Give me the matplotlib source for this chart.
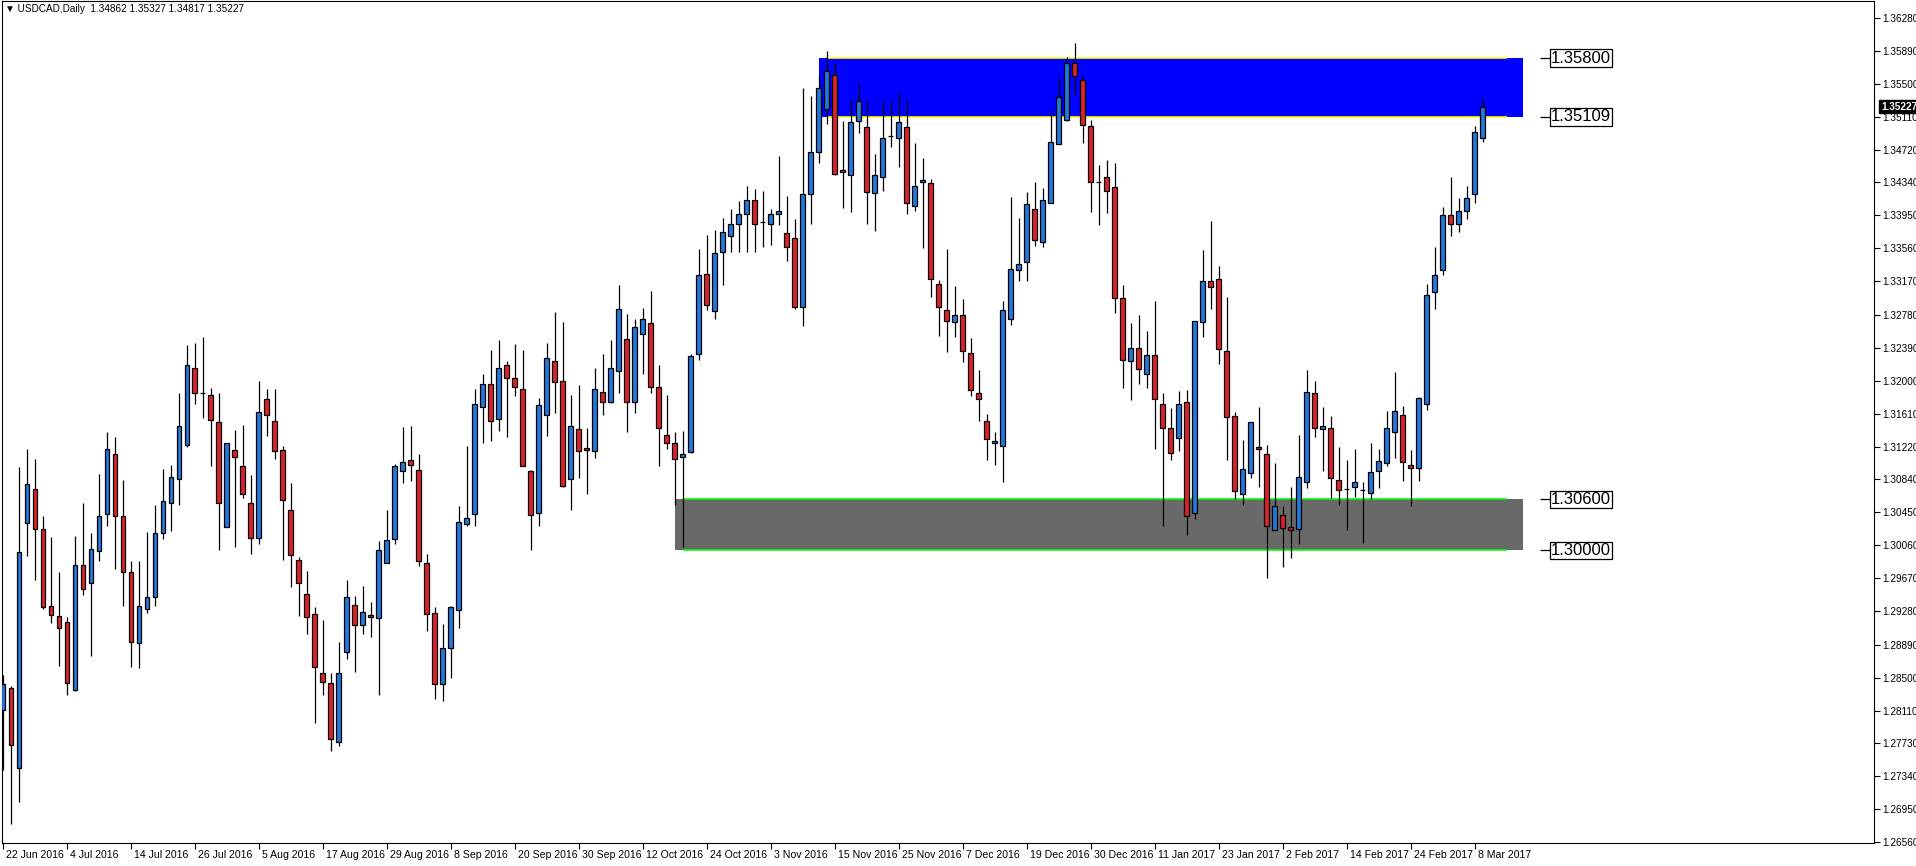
import matplotlib
matplotlib.use("Agg")
import matplotlib.pyplot as plt
from matplotlib.patches import Rectangle
from matplotlib import transforms

plt.rcParams['font.family'] = ['Liberation Sans', 'DejaVu Sans']

# daily USDCAD candles, 22 Jun 2016 .. 9 Mar 2017
opens = [1.2812, 1.2838, 1.2744, 1.3032, 1.3072, 1.3025, 1.2934, 1.2923, 1.2915, 1.2836,
         1.2983, 1.2961, 1.2999, 1.3043, 1.3114, 1.3040, 1.2975, 1.2891, 1.2931, 1.2945,
         1.3021, 1.3056, 1.3084, 1.3124, 1.3215, 1.3186, 1.3183, 1.3151, 1.3028, 1.3118,
         1.3100, 1.3056, 1.3015, 1.3178, 1.3153, 1.3118, 1.3047, 1.2989, 1.2949, 1.2925,
         1.2856, 1.2844, 1.2774, 1.2880, 1.2936, 1.2912, 1.2924, 1.2920, 1.2985, 1.3013,
         1.3094, 1.3106, 1.3095, 1.2985, 1.2926, 1.2842, 1.2885, 1.2930, 1.3031, 1.3043,
         1.3169, 1.3196, 1.3155, 1.3218, 1.3203, 1.3190, 1.3093, 1.3044, 1.3159, 1.3223,
         1.3200, 1.3084, 1.3143, 1.3121, 1.3117, 1.3187, 1.3175, 1.3211, 1.3249, 1.3175,
         1.3255, 1.3268, 1.3193, 1.3136, 1.3126, 1.3110, 1.3116, 1.3232, 1.3326, 1.3282,
         1.3352, 1.3370, 1.3385, 1.3396, 1.3413, 1.3387, 1.3385, 1.3396, 1.3374, 1.3368,
         1.3287, 1.3420, 1.3469, 1.3520, 1.3560, 1.3448, 1.3442, 1.3506, 1.3499, 1.3421,
         1.3440, 1.3488, 1.3486, 1.3499, 1.3406, 1.3434, 1.3433, 1.3314, 1.3283, 1.3269,
         1.3277, 1.3233, 1.3186, 1.3152, 1.3126, 1.3123, 1.3273, 1.3331, 1.3340, 1.3402,
         1.3363, 1.3409, 1.3479, 1.3507, 1.3574, 1.3554, 1.3500, 1.3434, 1.3440, 1.3428,
         1.3297, 1.3223, 1.3238, 1.3208, 1.3230, 1.3173, 1.3144, 1.3133, 1.3175, 1.3044,
         1.3269, 1.3317, 1.3320, 1.3235, 1.3158, 1.3066, 1.3091, 1.3122, 1.3114, 1.3024,
         1.3042, 1.3027, 1.3025, 1.3080, 1.3186, 1.3143, 1.3144, 1.3083, 1.3072, 1.3075,
         1.3071, 1.3068, 1.3094, 1.3103, 1.3139, 1.3159, 1.3101, 1.3097, 1.3173, 1.3304,
         1.3330, 1.3395, 1.3385, 1.3400, 1.3420, 1.34862]
highs = [1.2853, 1.2840, 1.3098, 1.3119, 1.3108, 1.3041, 1.3016, 1.2974, 1.2922, 1.3017,
         1.3056, 1.3020, 1.3090, 1.3140, 1.3134, 1.3083, 1.2987, 1.2987, 1.3022, 1.3054,
         1.3096, 1.3101, 1.3186, 1.3242, 1.3244, 1.3252, 1.3191, 1.3186, 1.3126, 1.3142,
         1.3148, 1.3089, 1.3200, 1.3190, 1.3190, 1.3123, 1.3079, 1.2992, 1.2976, 1.2933,
         1.2918, 1.2856, 1.2892, 1.2965, 1.2946, 1.2958, 1.2939, 1.3011, 1.3048, 1.3102,
         1.3145, 1.3147, 1.3114, 1.2996, 1.2933, 1.2913, 1.2934, 1.3052, 1.3123, 1.3190,
         1.3208, 1.3236, 1.3248, 1.3223, 1.3243, 1.3236, 1.3095, 1.3180, 1.3244, 1.3281,
         1.3269, 1.3183, 1.3195, 1.3144, 1.3215, 1.3231, 1.3248, 1.3313, 1.3279, 1.3273,
         1.3286, 1.3306, 1.3219, 1.3183, 1.3139, 1.3141, 1.3232, 1.3355, 1.3372, 1.3378,
         1.3392, 1.3402, 1.3412, 1.3430, 1.3426, 1.3424, 1.3402, 1.3465, 1.3418, 1.3391,
         1.3545, 1.3535, 1.3560, 1.3588, 1.3575, 1.3506, 1.3530, 1.3550, 1.3530, 1.3467,
         1.3530, 1.3530, 1.3540, 1.3530, 1.3480, 1.3463, 1.3438, 1.3319, 1.3355, 1.3312,
         1.3296, 1.3250, 1.3213, 1.3161, 1.3140, 1.3294, 1.3417, 1.3392, 1.3422, 1.3434,
         1.3427, 1.3520, 1.3557, 1.3581, 1.3598, 1.3559, 1.3507, 1.3454, 1.3460, 1.3456,
         1.3313, 1.3268, 1.3277, 1.3258, 1.3294, 1.3186, 1.3168, 1.3188, 1.3189, 1.3270,
         1.3354, 1.3388, 1.3335, 1.3299, 1.3163, 1.3130, 1.3151, 1.3169, 1.3124, 1.3103,
         1.3052, 1.3075, 1.3136, 1.3213, 1.3200, 1.3169, 1.3158, 1.3122, 1.3106, 1.3120,
         1.3080, 1.3127, 1.3120, 1.3164, 1.3210, 1.3170, 1.3118, 1.3181, 1.3314, 1.3358,
         1.3405, 1.3440, 1.3415, 1.3430, 1.3500, 1.35327]
lows = [1.2741, 1.2678, 1.2704, 1.2993, 1.2965, 1.2931, 1.2914, 1.2864, 1.2830, 1.2834,
        1.2947, 1.2876, 1.2987, 1.3029, 1.2978, 1.2935, 1.2862, 1.2861, 1.2926, 1.2935,
        1.3013, 1.3023, 1.3054, 1.3122, 1.3173, 1.3156, 1.3100, 1.3000, 1.3027, 1.3004,
        1.3062, 1.2996, 1.3008, 1.3135, 1.3108, 1.2989, 1.2957, 1.2923, 1.2901, 1.2797,
        1.2830, 1.2763, 1.2770, 1.2872, 1.2857, 1.2901, 1.2898, 1.2830, 1.2985, 1.3008,
        1.3079, 1.3082, 1.2981, 1.2905, 1.2825, 1.2822, 1.2850, 1.2909, 1.3029, 1.3029,
        1.3127, 1.3129, 1.3141, 1.3134, 1.3182, 1.3099, 1.3000, 1.3029, 1.3135, 1.3162,
        1.3075, 1.3047, 1.3085, 1.3067, 1.3109, 1.3160, 1.3174, 1.3185, 1.3139, 1.3162,
        1.3208, 1.3185, 1.3100, 1.3119, 1.3054, 1.3004, 1.3115, 1.3224, 1.3283, 1.3273,
        1.3313, 1.3352, 1.3352, 1.3352, 1.3352, 1.3358, 1.3360, 1.3384, 1.3341, 1.3285,
        1.3264, 1.3385, 1.3456, 1.3502, 1.3443, 1.3404, 1.3399, 1.3492, 1.3385, 1.3377,
        1.3423, 1.3476, 1.3452, 1.3396, 1.3400, 1.3356, 1.3299, 1.3253, 1.3234, 1.3251,
        1.3222, 1.3182, 1.3152, 1.3107, 1.3101, 1.3080, 1.3266, 1.3317, 1.3317, 1.3359,
        1.3357, 1.3409, 1.3479, 1.3506, 1.3538, 1.3480, 1.3399, 1.3384, 1.3398, 1.3280,
        1.3191, 1.3177, 1.3196, 1.3191, 1.3119, 1.3029, 1.3106, 1.3117, 1.3018, 1.3037,
        1.3252, 1.3284, 1.3220, 1.3106, 1.3061, 1.3053, 1.3085, 1.3075, 1.2968, 1.3024,
        1.2980, 1.2991, 1.3007, 1.3073, 1.3134, 1.3094, 1.3062, 1.3054, 1.3024, 1.3063,
        1.3009, 1.3060, 1.3074, 1.3099, 1.3109, 1.3082, 1.3052, 1.3082, 1.3165, 1.3284,
        1.3324, 1.3370, 1.3375, 1.3390, 1.3410, 1.34817]
closes = [1.2842, 1.2771, 1.2998, 1.3078, 1.3025, 1.2933, 1.2924, 1.2908, 1.2844, 1.2983,
          1.2955, 1.3002, 1.3040, 1.3119, 1.3040, 1.2974, 1.2892, 1.2935, 1.2945, 1.3020,
          1.3058, 1.3086, 1.3146, 1.3218, 1.3186, 1.3186, 1.3154, 1.3056, 1.3126, 1.3110,
          1.3066, 1.3014, 1.3163, 1.3160, 1.3117, 1.3059, 1.2994, 1.2961, 1.2922, 1.2862,
          1.2845, 1.2778, 1.2856, 1.2945, 1.2912, 1.2927, 1.2921, 1.3000, 1.3012, 1.3100,
          1.3104, 1.3101, 1.2988, 1.2925, 1.2842, 1.2885, 1.2933, 1.3033, 1.3038, 1.3172,
          1.3196, 1.3153, 1.3215, 1.3203, 1.3192, 1.3100, 1.3042, 1.3171, 1.3227, 1.3198,
          1.3076, 1.3146, 1.3117, 1.3118, 1.3190, 1.3175, 1.3215, 1.3284, 1.3175, 1.3263,
          1.3273, 1.3192, 1.3144, 1.3126, 1.3108, 1.3113, 1.3229, 1.3325, 1.3289, 1.3350,
          1.3375, 1.3385, 1.3396, 1.3413, 1.3385, 1.3387, 1.3396, 1.3400, 1.3358, 1.3287,
          1.3420, 1.3470, 1.3545, 1.3565, 1.3444, 1.3446, 1.3505, 1.3530, 1.3422, 1.3443,
          1.3486, 1.3488, 1.3505, 1.3409, 1.3430, 1.3436, 1.3320, 1.3287, 1.3270, 1.3277,
          1.3235, 1.3189, 1.3178, 1.3131, 1.3129, 1.3283, 1.3332, 1.3338, 1.3408, 1.3366,
          1.3413, 1.3481, 1.3534, 1.3575, 1.3559, 1.3501, 1.3434, 1.3434, 1.3423, 1.3298,
          1.3224, 1.3239, 1.3214, 1.3230, 1.3178, 1.3144, 1.3115, 1.3173, 1.3040, 1.3270,
          1.3317, 1.3311, 1.3237, 1.3157, 1.3070, 1.3096, 1.3151, 1.3119, 1.3029, 1.3052,
          1.3026, 1.3024, 1.3086, 1.3187, 1.3144, 1.3147, 1.3085, 1.3071, 1.3072, 1.3081,
          1.3071, 1.3092, 1.3105, 1.3144, 1.3164, 1.3104, 1.3097, 1.3179, 1.3301, 1.3325,
          1.3395, 1.3385, 1.3400, 1.3415, 1.3493, 1.35227]

date_labels = ['22 Jun 2016', '4 Jul 2016', '14 Jul 2016', '26 Jul 2016', '5 Aug 2016',
               '17 Aug 2016', '29 Aug 2016', '8 Sep 2016', '20 Sep 2016', '30 Sep 2016',
               '12 Oct 2016', '24 Oct 2016', '3 Nov 2016', '15 Nov 2016', '25 Nov 2016',
               '7 Dec 2016', '19 Dec 2016', '30 Dec 2016', '11 Jan 2017', '23 Jan 2017',
               '2 Feb 2017', '14 Feb 2017', '24 Feb 2017', '8 Mar 2017']
price_ticks = [1.36280, 1.35890, 1.35500, 1.35110, 1.34720, 1.34340, 1.33950, 1.33560,
               1.33170, 1.32780, 1.32390, 1.32000, 1.31610, 1.31220, 1.30840, 1.30450,
               1.30060, 1.29670, 1.29280, 1.28890, 1.28500, 1.28110, 1.27730, 1.27340,
               1.26950, 1.26560]

supply_zone = (1.35109, 1.35800)
demand_zone = (1.30000, 1.30600)
title = '▼ USDCAD,Daily  1.34862 1.35327 1.34817 1.35227'

BULL = '#2378dc'
BEAR = '#dc2328'

fig = plt.figure(figsize=(19.16, 8.66), dpi=100)
ax = fig.add_axes([2 / 1916, 23 / 866, 1872 / 1916, 842 / 866])

n = len(opens)
xs = list(range(n))
ax.vlines(xs, lows, highs, color='black', linewidth=0.9, zorder=3)
bottoms = [min(o, c) for o, c in zip(opens, closes)]
heights = [abs(c - o) for o, c in zip(opens, closes)]
colors = [BULL if c >= o else BEAR for o, c in zip(opens, closes)]
ax.bar(xs, heights, bottom=bottoms, width=0.62, color=colors,
       edgecolor='black', linewidth=0.9, zorder=4)

# zones: fill reaches a bar further left and two bars further right than the border lines
def zone(lo, hi, fill, line, x_line0, x_line1):
    ax.add_patch(Rectangle((x_line0 - 1, lo), x_line1 - x_line0 + 3, hi - lo,
                           facecolor=fill, edgecolor='none', zorder=1))
    ax.hlines([lo, hi], x_line0, x_line1, color=line, linewidth=1.2, zorder=2)
    for v in (lo, hi):
        ax.hlines(v, 192.1, 193.4, color='black', linewidth=0.9)
        ax.text(193.5, v, f'{v:.5f}', fontsize=12, va='center', ha='left',
                bbox=dict(boxstyle='square,pad=0.08', fc='white', ec='black', lw=0.9))

zone(supply_zone[0], supply_zone[1], '#0000ff', '#ffff00', 103, 188)
zone(demand_zone[0], demand_zone[1], '#696969', '#00ff00', 85, 188)

ax.set_xlim(-0.125, 233.9)
ax.set_ylim(1.26551, 1.36475)

ax.yaxis.tick_right()
ax.set_yticks(price_ticks)
ax.set_yticklabels([f'{v:.5f}' for v in price_ticks])
ax.tick_params(axis='y', direction='out', length=4, width=0.8, pad=2, labelsize=7.2)

ax.set_xticks([8 * k for k in range(len(date_labels))])
ax.set_xticklabels(date_labels)
ax.tick_params(axis='x', direction='out', length=4, width=0.8, pad=1, labelsize=7.6)
shift = transforms.ScaledTranslation(3 / 100, 0, fig.dpi_scale_trans)
for lab in ax.get_xticklabels():
    lab.set_horizontalalignment('left')
    lab.set_transform(lab.get_transform() + shift)

for sp in ax.spines.values():
    sp.set_linewidth(0.8)
    sp.set_color('black')

# current price marker on the price scale
ax.annotate(f'{closes[-1]:.5f}', xy=(1.0, closes[-1]), xycoords=('axes fraction', 'data'),
            xytext=(5, 0), textcoords='offset points', va='center', ha='left',
            fontsize=7.2, color='white', fontweight='bold', annotation_clip=False,
            bbox=dict(boxstyle='square,pad=0.15', fc='black', ec='black'), zorder=10)

fig.text(5 / 1916, 1 - 9 / 866, title, fontsize=7.2, va='center', ha='left')

fig.savefig('out.png', dpi=100)
